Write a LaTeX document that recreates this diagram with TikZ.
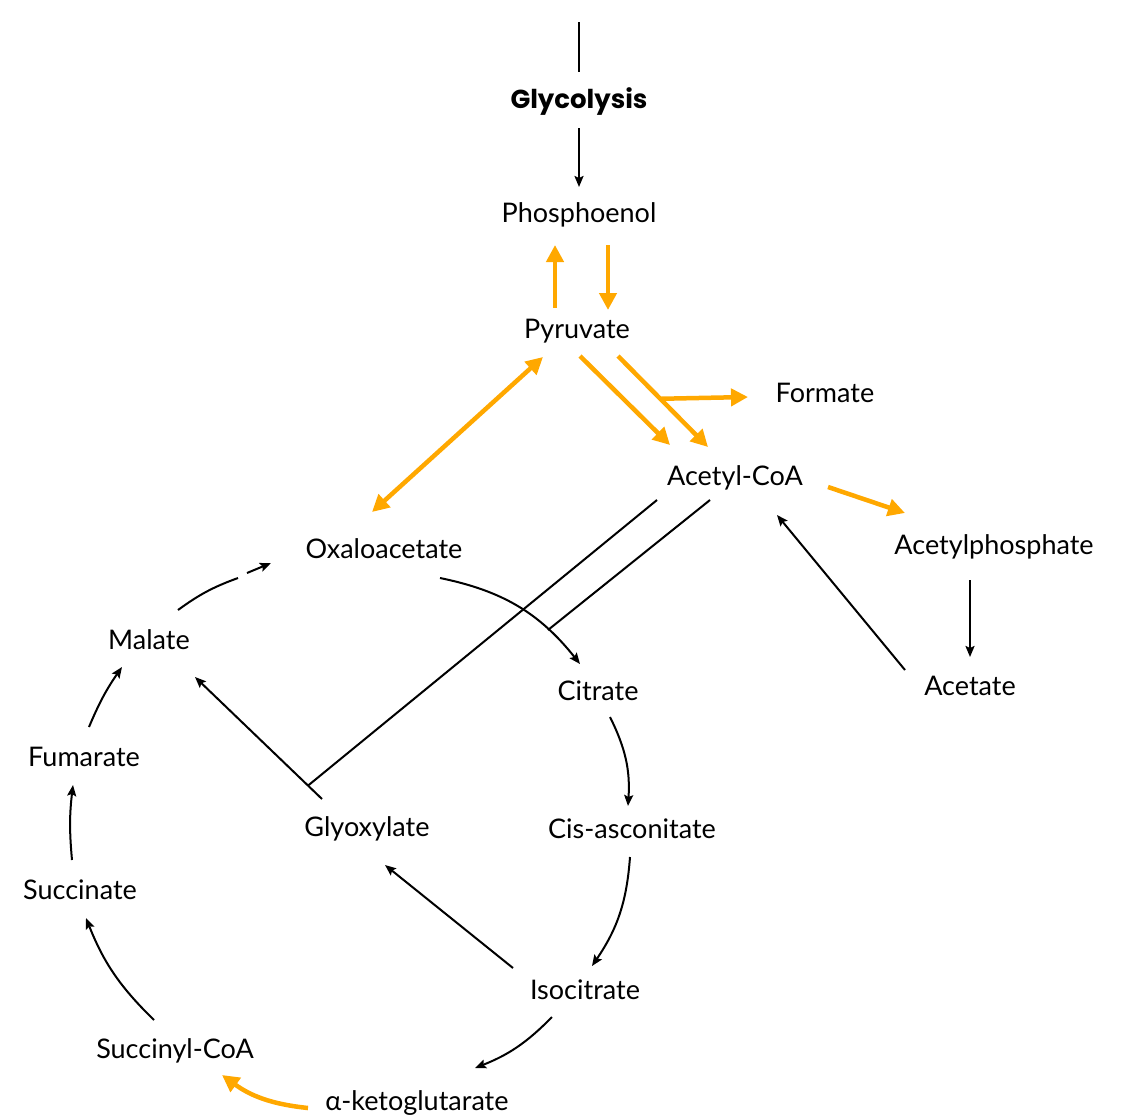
\documentclass[tikz,border=0pt]{standalone}
\usepackage{fontspec}
\setmainfont{Lato}
\newfontfamily\headfont{Poppins}
\usetikzlibrary{calc,arrows.meta}
\definecolor{amber}{RGB}{255,168,0}
\begin{document}
\begin{tikzpicture}[x=1pt,y=-1pt,
  lbl/.style={anchor=base,inner sep=0pt,font=\fontsize{27}{31}\selectfont},
  blk/.style={line width=2pt,-{Stealth[length=11pt,width=9pt,inset=2pt]}},
  blkline/.style={line width=2pt},
  org/.style={line width=4.5pt,draw=amber,-{Triangle[length=17pt,width=17pt]}},
  orgboth/.style={line width=4.5pt,draw=amber,{Triangle[length=17pt,width=17pt]}-{Triangle[length=17pt,width=17pt]}}]
\useasboundingbox (0,0) rectangle (1121,1119);
% nodes
\node[lbl,font=\headfont\fontsize{26}{30}\selectfont\bfseries] (glyc) at (579,108) {Glycolysis};
\node[lbl] (phos) at (579,222) {Phosphoenol};
\node[lbl] (pyr) at (577,338) {Pyruvate};
\node[lbl] (form) at (825,402) {Formate};
\node[lbl] (acoa) at (735,485) {Acetyl-CoA};
\node[lbl] (acp) at (994,554) {Acetylphosphate};
\node[lbl] (acet) at (970,695) {Acetate};
\node[lbl] (oxa) at (384,558) {Oxaloacetate};
\node[lbl] (mal) at (149,649) {Malate};
\node[lbl] (cit) at (598,700) {Citrate};
\node[lbl] (fum) at (84,766) {Fumarate};
\node[lbl] (glx) at (367,836) {Glyoxylate};
\node[lbl] (cis) at (632,838) {Cis-asconitate};
\node[lbl] (succ) at (80,899) {Succinate};
\node[lbl] (iso) at (585,999) {Isocitrate};
\node[lbl] (scoa) at (175,1058) {Succinyl-CoA};
\node[lbl] (akg) at (417,1110) {α-ketoglutarate};
% top
\coordinate (topend) at ($(glyc.base)+(0,-86)$);
\draw[blkline] (topend) -- ($(glyc.base)+(0,-36)$);
\draw[blk] ($(glyc.base)+(0,20)$) -- ($(phos.base)+(0,-35)$);
% orange
\draw[org] ($(pyr.base)+(-22,-30)$) -- ($(phos.base)+(-24,23)$);
\draw[org] ($(phos.base)+(29,23)$) -- ($(pyr.base)+(31,-28)$);
\draw[orgboth] ($(oxa.base)+(-12,-46)$) -- ($(pyr.base)+(-34,19)$);
\draw[org] ($(pyr.base)+(3,18)$) -- ($(acoa.base)+(-65,-40)$);
\draw[org] ($(pyr.base)+(41,18)$) -- ($(acoa.base)+(-27,-38)$) coordinate[pos=0.47] (br);
\draw[org] (br) -- ($(form.base)+(-77,-5)$);
\draw[org] ($(acoa.base)+(93,2)$) -- ($(acp.base)+(-89,-41)$);
\draw[org] ($(akg.base)+(-109,-2)$) to[bend left=15] ($(scoa.base)+(47,17)$);
% right
\draw[blk] ($(acp.base)+(-24,26)$) -- ($(acet.base)+(0,-38)$);
\draw[blk] ($(acet.base)+(-65,-25)$) -- ($(acoa.base)+(42,30)$);
% cycle
\draw[blkline] ($(mal.base)+(29,-39)$) to[bend left=8] ($(oxa.base)+(-146,20)$);
\draw[blk] ($(oxa.base)+(-137,15)$) -- ($(oxa.base)+(-113,5)$);
\draw[blk] ($(oxa.base)+(56,20)$) to[bend left=20] ($(cit.base)+(-18,-36)$);
\draw[blk] ($(cit.base)+(12,17)$) to[bend left=15] ($(cis.base)+(-4,-32)$);
\draw[blk] ($(cis.base)+(-2,19)$) to[bend left=15] ($(iso.base)+(7,-33)$);
\draw[blk] ($(iso.base)+(-33,18)$) to[bend left=12] ($(akg.base)+(58,-42)$);
\draw[blk] ($(scoa.base)+(-21,-38)$) to[bend left=12] ($(succ.base)+(6,19)$);
\draw[blk] ($(succ.base)+(-8,-39)$) to[bend left=6] ($(fum.base)+(-11,19)$);
\draw[blk] ($(fum.base)+(5,-39)$) to[bend left=6] ($(mal.base)+(-27,18)$);
\draw[blk] ($(iso.base)+(-72,-31)$) -- ($(glx.base)+(18,29)$);
\draw[blk] ($(glx.base)+(-45,-37)$) -- ($(mal.base)+(46,28)$) coordinate[pos=0.11] (jn);
% acetyl-CoA lines
\draw[blkline] ($(acoa.base)+(-78,15)$) -- (jn);
\coordinate (csend) at ($(cit.base)+(-50,-70)$);
\draw[blkline] ($(acoa.base)+(-25,15)$) -- (csend);
\end{tikzpicture}
\end{document}
